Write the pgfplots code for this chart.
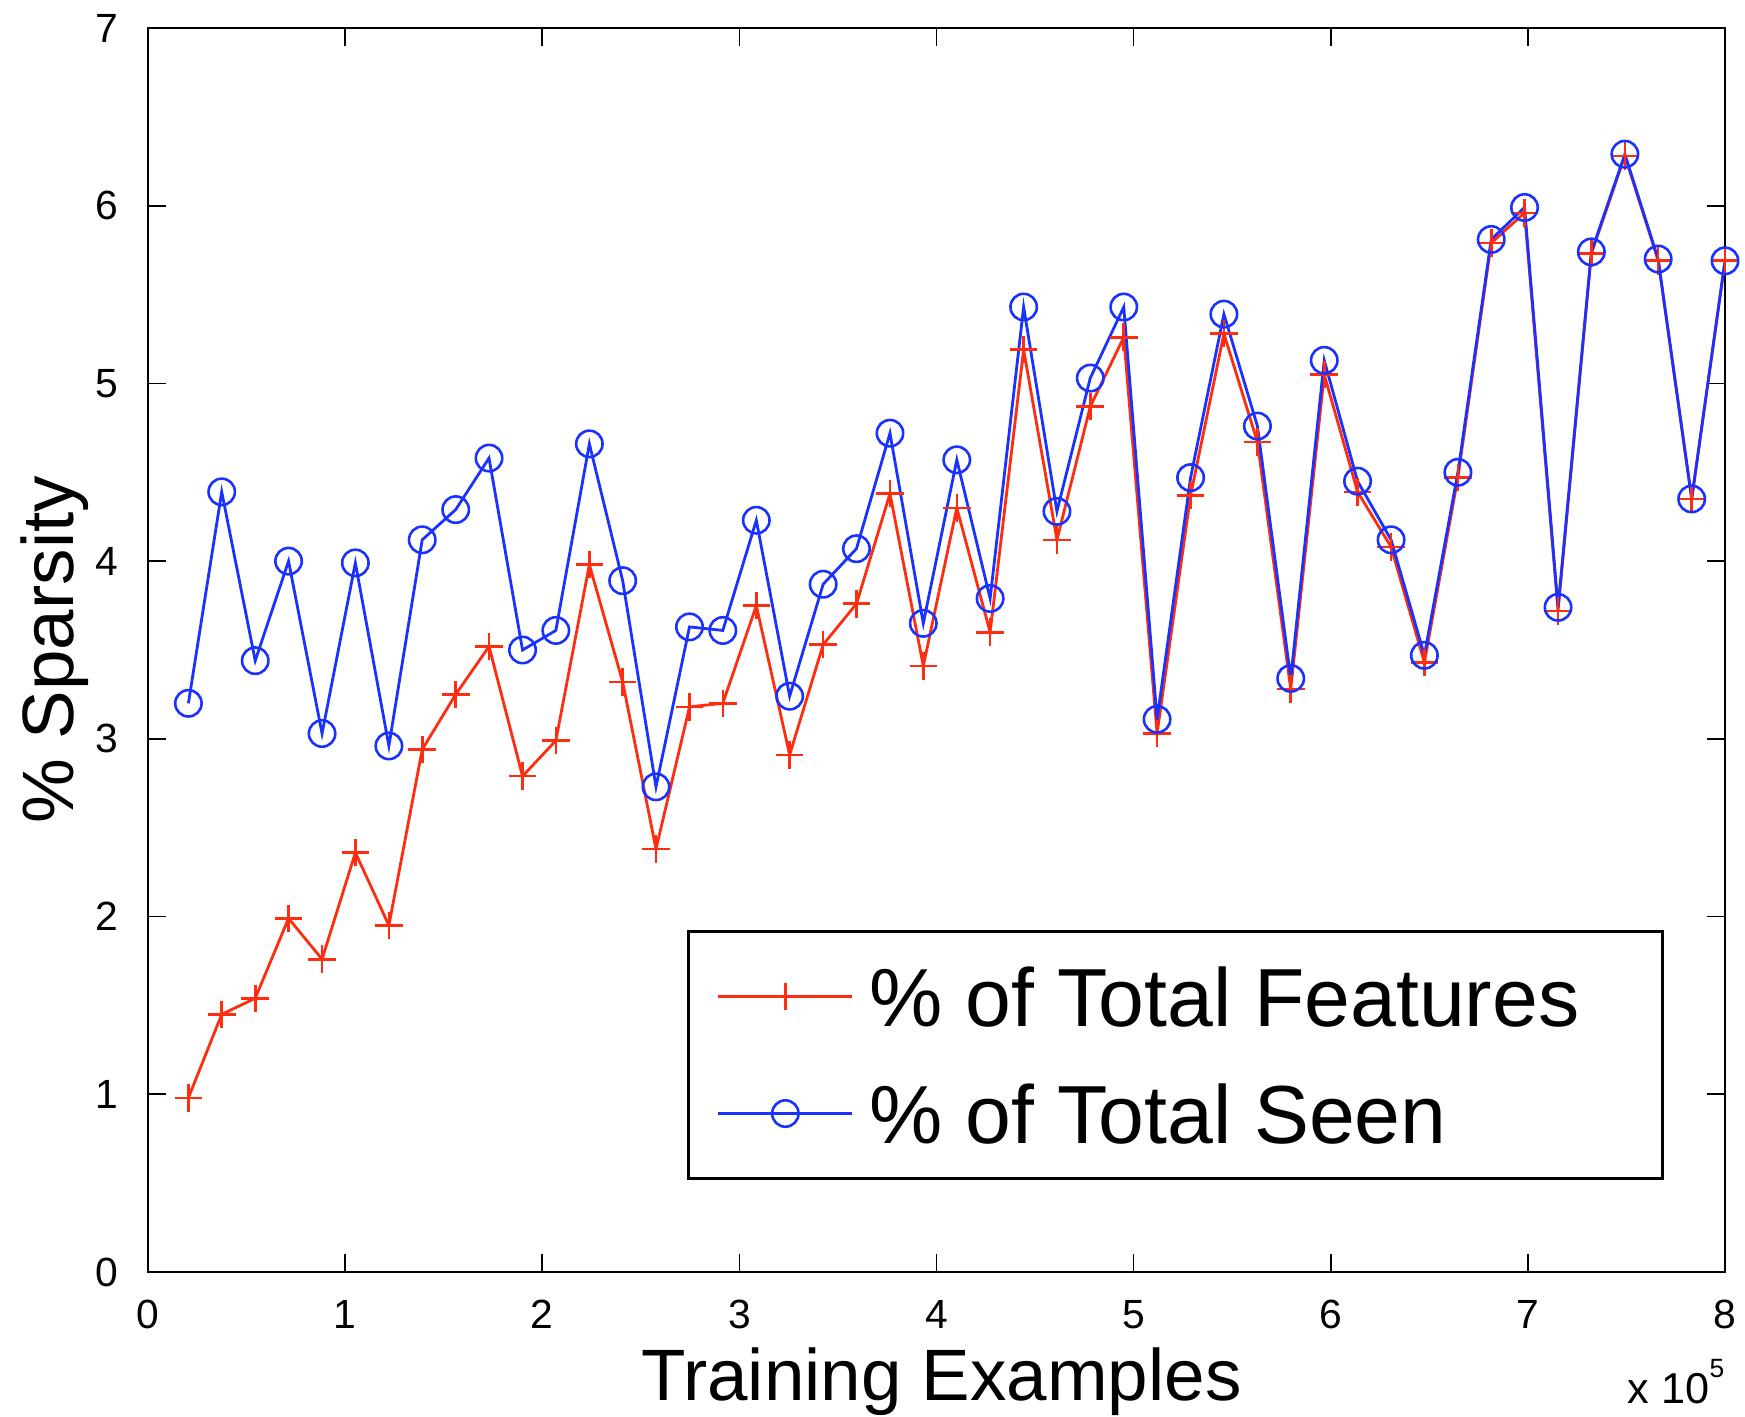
\documentclass[border=0pt]{standalone}
\usepackage{pgfplots}
\pgfplotsset{compat=1.18}
\usepackage{fontspec}
\setmainfont{Liberation Sans}
\definecolor{mred}{RGB}{255,45,15}
\definecolor{mblue}{RGB}{25,50,255}
\begin{document}
\begin{tikzpicture}
\begin{axis}[
  name=ax,
  scale only axis,
  width=394.25pt, height=311pt,
  xmin=0, xmax=8, ymin=0, ymax=7,
  xtick={0,1,...,8}, ytick={0,1,...,7},
  tick align=inside,
  major tick length=4.5pt,
  xtick pos=both, ytick pos=both,
  axis line style={line width=0.7pt},
  every tick/.style={black, line width=0.4pt},
  tick label style={font=\fontsize{10.2}{12}\selectfont},
  /pgf/number format/assume math mode=true,
  xticklabel style={yshift=-3.5pt},
  yticklabel style={xshift=-3.8pt},
  every axis x label/.style={at={(axis description cs:0.5,0)}, anchor=base, yshift=-32pt, xshift=1.25pt, font=\fontsize{18.2}{21}\selectfont},
  every axis y label/.style={at={(axis description cs:-0.0472,0.5)}, rotate=90, anchor=base, font=\fontsize{18.2}{21}\selectfont},
  xlabel={Training Examples},
  ylabel={\% Sparsity},
  legend style={
    at={(axis description cs:0.9613,0.074)}, anchor=south east,
    draw=black, line width=0.7pt,
    inner xsep=7.25pt, inner ysep=4pt,
    row sep=4.75pt, column sep=4pt,
    font=\fontsize{20.6}{24}\selectfont,
    nodes={inner sep=0pt, text height=19.8pt, text depth=4.7pt, line width=0.6pt},
  },
  legend cell align=left,
  legend image code/.code={
    \draw[mark repeat=2, mark phase=2, line width=0.6pt, #1]
      plot coordinates {(0pt,0pt) (16.75pt,0pt) (33.5pt,0pt)};
  },
]
\addplot[color=mred, line width=0.7pt, mark=+, mark size=3.45pt, mark options={line width=0.65pt}] coordinates {
(0.205,0.98) (0.374,1.45) (0.544,1.54) (0.713,1.99) (0.883,1.76)
(1.052,2.36) (1.222,1.95) (1.391,2.94) (1.561,3.25) (1.730,3.52)
(1.900,2.79) (2.069,2.99) (2.239,3.98) (2.408,3.32) (2.577,2.38)
(2.747,3.18) (2.916,3.20) (3.086,3.75) (3.255,2.91) (3.425,3.53)
(3.594,3.76) (3.764,4.38) (3.933,3.41) (4.103,4.30) (4.272,3.60)
(4.442,5.19) (4.611,4.12) (4.780,4.87) (4.950,5.26) (5.119,3.03)
(5.289,4.37) (5.458,5.28) (5.628,4.67) (5.797,3.28) (5.967,5.05)
(6.136,4.39) (6.306,4.08) (6.475,3.43) (6.645,4.47) (6.814,5.79)
(6.983,5.96) (7.153,3.72) (7.322,5.73) (7.492,6.28) (7.661,5.69)
(7.831,4.35) (8.000,5.69)
};
\addlegendentry{\makebox[191pt][l]{\% of Total Features}}
\addplot[color=mblue, line width=0.7pt, mark=o, mark size=3.3pt, mark options={line width=0.65pt}] coordinates {
(0.205,3.20) (0.374,4.39) (0.544,3.44) (0.713,4.00) (0.883,3.03)
(1.052,3.99) (1.222,2.96) (1.391,4.12) (1.561,4.29) (1.730,4.58)
(1.900,3.50) (2.069,3.61) (2.239,4.66) (2.408,3.89) (2.577,2.73)
(2.747,3.63) (2.916,3.61) (3.086,4.23) (3.255,3.24) (3.425,3.87)
(3.594,4.07) (3.764,4.72) (3.933,3.65) (4.103,4.57) (4.272,3.79)
(4.442,5.43) (4.611,4.28) (4.780,5.03) (4.950,5.43) (5.119,3.11)
(5.289,4.47) (5.458,5.39) (5.628,4.76) (5.797,3.34) (5.967,5.13)
(6.136,4.45) (6.306,4.12) (6.475,3.47) (6.645,4.50) (6.814,5.81)
(6.983,5.99) (7.153,3.74) (7.322,5.74) (7.492,6.29) (7.661,5.70)
(7.831,4.35) (8.000,5.69)
};
\addlegendentry{\makebox[191pt][l]{\% of Total Seen}}
\end{axis}
\node[anchor=base east, inner sep=0pt, font=\fontsize{10.8}{13}\selectfont] at ([yshift=-32.75pt]ax.south east) {x 10\raisebox{6.5pt}{\fontsize{6.6}{8}\selectfont 5}};
\pgfresetboundingbox
\path[use as bounding box] ([xshift=-37pt,yshift=-36pt]ax.south west) rectangle ([xshift=5pt,yshift=7pt]ax.north east);
\end{tikzpicture}
\end{document}
